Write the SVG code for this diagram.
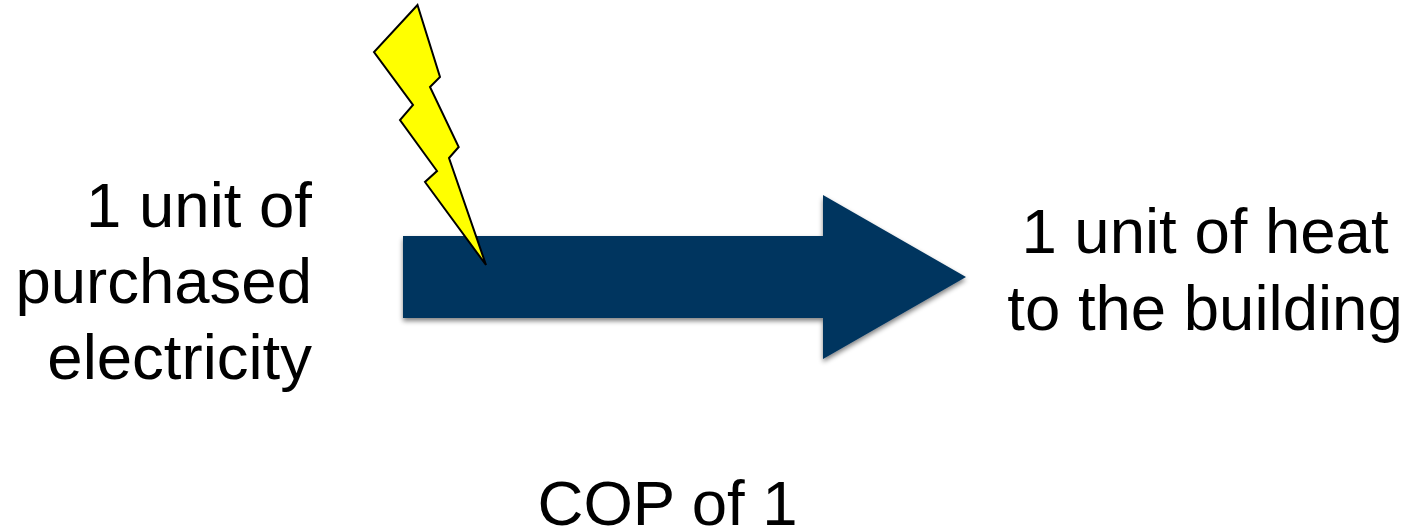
<svg xmlns="http://www.w3.org/2000/svg" width="1417" height="531" viewBox="0 0 1417 531">
<style>
text{font-family:"Liberation Sans",Arial,sans-serif;font-size:63.5px;fill:#000}
.r{text-anchor:end}
.m{text-anchor:middle}
</style>
<defs><filter id="s" x="-5%" y="-5%" width="110%" height="115%"><feGaussianBlur in="SourceAlpha" stdDeviation="2.5"/><feOffset dx="0" dy="3"/><feComponentTransfer><feFuncA type="linear" slope="0.5"/></feComponentTransfer><feMerge><feMergeNode/><feMergeNode in="SourceGraphic"/></feMerge></filter></defs>
<rect width="1417" height="531" fill="#fff"/>
<g id="connectors">
<polygon id="arrow" points="403,236 823,236 823,195 966,277 823,359 823,318 403,318" fill="#03355f" filter="url(#s)"/>
</g>
<g id="bolt">
<polygon points="417.5,5 440,77 430,87 458.7,147 449,158 486,265 425,182 437,171 400,120 413,105 374,52" fill="#ffff00" stroke="#000" stroke-width="2"/>
</g>
<g id="input-label">
<text class="r" x="312" y="227">1 unit of</text>
<text class="r" x="312" y="303">purchased</text>
<text class="r" x="312" y="379">electricity</text>
</g>
<g id="output-label">
<text class="m" x="1205" y="253">1 unit of heat</text>
<text class="m" x="1205" y="330">to the building</text>
</g>
<g id="cop-label">
<text class="m" x="667.6" y="525">COP of 1</text>
</g>
</svg>
